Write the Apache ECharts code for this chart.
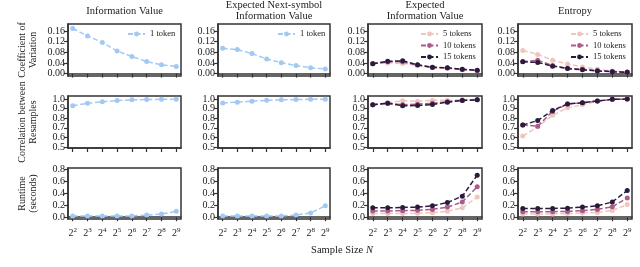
<!DOCTYPE html>
<html><head><meta charset="utf-8">
<script src="https://cdn.jsdelivr.net/npm/echarts@6/dist/echarts.min.js"></script>
<style>html,body{margin:0;padding:0;background:#fff}#c{width:640px;height:267px}</style>
</head><body><div id="c"></div>
<script>
const exponents = [2,3,4,5,6,7,8,9];
const panelTitles = ['Information Value','Expected Next-symbol\nInformation Value','Expected\nInformation Value','Entropy'];
const rowLabels = ['Coefficient of\nVariation','Correlation between\nResamples','Runtime\n(seconds)'];
const seriesNames1 = ['1 token'];
const seriesNames3 = ['5 tokens','10 tokens','15 tokens'];
const yTicksCV = [0,0.04,0.08,0.12,0.16];
const yTicksCorr = [0.5,0.6,0.7,0.8,0.9,1.0];
const yTicksRun = [0,0.2,0.4,0.6,0.8];

// Information Value (1 token)
const iv_cv   = [0.169,0.141,0.117,0.085,0.064,0.045,0.033,0.027];
const iv_corr = [0.928,0.955,0.970,0.983,0.990,0.993,0.996,0.997];
const iv_run  = [0.020,0.020,0.020,0.020,0.021,0.035,0.052,0.100];
// Expected Next-symbol Information Value (1 token)
const ens_cv   = [0.095,0.090,0.075,0.055,0.041,0.030,0.022,0.017];
const ens_corr = [0.957,0.966,0.976,0.985,0.990,0.993,0.996,0.997];
const ens_run  = [0.020,0.020,0.020,0.020,0.021,0.035,0.072,0.190];
// Expected Information Value
const eiv_cv_5   = [0.038,0.040,0.038,0.031,0.022,0.020,0.014,0.011];
const eiv_cv_10  = [0.037,0.044,0.044,0.032,0.023,0.021,0.015,0.012];
const eiv_cv_15  = [0.037,0.046,0.048,0.033,0.024,0.022,0.016,0.013];
const eiv_corr_5  = [0.940,0.960,0.980,0.975,0.985,0.985,0.990,0.993];
const eiv_corr_10 = [0.940,0.955,0.940,0.945,0.955,0.970,0.985,0.990];
const eiv_corr_15 = [0.938,0.955,0.928,0.931,0.941,0.966,0.983,0.990];
const eiv_run_5  = [0.060,0.060,0.060,0.065,0.076,0.100,0.157,0.335];
const eiv_run_10 = [0.103,0.103,0.108,0.114,0.130,0.168,0.254,0.508];
const eiv_run_15 = [0.157,0.157,0.162,0.168,0.190,0.245,0.350,0.700];
// Entropy
const ent_cv_5   = [0.087,0.072,0.050,0.036,0.025,0.016,0.010,0.006];
const ent_cv_10  = [0.045,0.050,0.030,0.020,0.016,0.012,0.008,0.006];
const ent_cv_15  = [0.044,0.042,0.028,0.019,0.014,0.010,0.007,0.005];
const ent_corr_5  = [0.614,0.710,0.830,0.907,0.940,0.976,0.993,0.998];
const ent_corr_10 = [0.728,0.717,0.870,0.948,0.959,0.979,0.995,0.998];
const ent_corr_15 = [0.728,0.776,0.879,0.948,0.959,0.979,0.995,0.998];
const ent_run_5  = [0.054,0.054,0.054,0.060,0.070,0.080,0.113,0.210];
const ent_run_10 = [0.092,0.092,0.092,0.097,0.108,0.130,0.173,0.320];
const ent_run_15 = [0.146,0.146,0.146,0.151,0.168,0.190,0.254,0.443];

const BLUE = '#a1c9f4';
const PAL = ['#efc6bc','#a95b8a','#2a1a3c'];
const FONT = 'Liberation Serif';
const AX = '#333333';

const colL = [68,218,368,518], colR = [181,330,482,632];
const rowT = [24,96,168], rowB = [76,148,219];
const yRanges = [[-0.009,0.186],[0.49,1.03],[-0.03,0.82]];
const yTicks = [yTicksCV, yTicksCorr, yTicksRun];
const yDec = [2,1,1];

const panelData = [
  [[iv_cv],[iv_corr],[iv_run]],
  [[ens_cv],[ens_corr],[ens_run]],
  [[eiv_cv_5,eiv_cv_10,eiv_cv_15],[eiv_corr_5,eiv_corr_10,eiv_corr_15],[eiv_run_5,eiv_run_10,eiv_run_15]],
  [[ent_cv_5,ent_cv_10,ent_cv_15],[ent_corr_5,ent_corr_10,ent_corr_15],[ent_run_5,ent_run_10,ent_run_15]]
];

const grid=[], xAxis=[], yAxis=[], series=[], legend=[], graphic=[];
let gi = 0;
function yAxisDef(gridIdx, r, vals, showLine){
  return {type:'value', gridIndex:gridIdx, position:'left', min:yRanges[r][0], max:yRanges[r][1],
    axisLine:{show:showLine, lineStyle:{color:AX,width:1.5}},
    axisTick:{show:true, inside:false, length:4, customValues:vals, lineStyle:{color:AX,width:1.2}},
    splitLine:{show:false},
    axisLabel:{show:true, customValues:vals, margin:3, color:'#222', fontFamily:FONT, fontSize:10,
      hideOverlap:false, showMinLabel:true, showMaxLabel:true,
      formatter:v=>Number(v).toFixed(yDec[r])}
  };
}
for (let r=0;r<3;r++){
  for (let c=0;c<4;c++){
    grid.push({left:colL[c], top:rowT[r], width:colR[c]-colL[c], height:rowB[r]-rowT[r],
      show:true, borderColor:AX, borderWidth:1.5, backgroundColor:'transparent'});
    xAxis.push({type:'value', gridIndex:gi, min:1.68, max:9.32,
      axisLine:{show:true, lineStyle:{color:AX,width:1.5}},
      axisTick:{show:true, inside:false, length:4, customValues:exponents, lineStyle:{color:AX,width:1.2}},
      splitLine:{show:false},
      axisLabel:{show:r===2, customValues:exponents, margin:8, color:'#222', fontFamily:FONT, fontSize:10,
        hideOverlap:false, showMinLabel:true, showMaxLabel:true,
        formatter:v=>'2{s|'+v+'}',
        rich:{s:{fontSize:7, fontFamily:FONT, color:'#222', padding:[0,0,6,0]}}}
    });
    const tv = yTicks[r];
    const evenVals = tv.filter((v,i)=>i%2===0);
    const oddVals = tv.filter((v,i)=>i%2===1);
    const yIdx = yAxis.length;
    yAxis.push(yAxisDef(gi, r, evenVals, true));
    yAxis.push(yAxisDef(gi, r, oddVals, false));
    const sets = panelData[c][r];
    sets.forEach((arr,k)=>{
      const color = sets.length===1 ? BLUE : PAL[k];
      const name = sets.length===1 ? seriesNames1[0] : seriesNames3[k];
      series.push({type:'line', name:name, xAxisIndex:gi, yAxisIndex:yIdx,
        data: exponents.map((e,i)=>[e,arr[i]]),
        symbol:'circle', symbolSize:5, showSymbol:true, silent:true, animation:false,
        lineStyle:{color:color, width:1.5, type:[5,2.5]},
        itemStyle:{color:color},
        z: 2+k
      });
    });
    gi++;
  }
}
// panel titles
for (let c=0;c<4;c++){
  const two = panelTitles[c].indexOf('\n')>=0;
  graphic.push({type:'text', x:(colL[c]+colR[c])/2, y: two?10.5:11,
    style:{text:panelTitles[c], fontFamily:FONT, fontSize:10.5, fill:'#222', align:'center', verticalAlign:'middle', lineHeight:11}});
}
// legends
const lt = {fontFamily:FONT,fontSize:8.5,color:'#222'};
legend.push({data:seriesNames1, left:127, top:29.5, padding:0, itemWidth:17, itemHeight:6, itemGap:4, textStyle:lt});
legend.push({data:seriesNames1, left:277, top:29.5, padding:0, itemWidth:17, itemHeight:6, itemGap:4, textStyle:lt});
legend.push({data:seriesNames3, orient:'vertical', left:420, top:29.5, padding:0, itemWidth:17, itemHeight:6, itemGap:2.5, textStyle:lt});
legend.push({data:seriesNames3, orient:'vertical', left:570, top:29.5, padding:0, itemWidth:17, itemHeight:6, itemGap:2.5, textStyle:lt});

for (let r=0;r<3;r++){
  graphic.push({type:'text', x:28, y:(rowT[r]+rowB[r])/2, rotation:Math.PI/2,
    style:{text:rowLabels[r], fontFamily:FONT, fontSize:10, fill:'#222', align:'center', verticalAlign:'middle', lineHeight:11}});
}
graphic.push({type:'text', x:342, y:250,
  style:{text:'Sample Size {i|N}', fontFamily:FONT, fontSize:10.5, fill:'#222', align:'center', verticalAlign:'middle',
    rich:{i:{fontFamily:FONT, fontSize:10.5, fontStyle:'italic', fill:'#222'}}}});

const chart = echarts.init(document.getElementById('c'), null, {renderer:'canvas'});
chart.setOption({animation:false, backgroundColor:'#fff', grid, xAxis, yAxis, series, legend, graphic});
</script>
</body></html>
